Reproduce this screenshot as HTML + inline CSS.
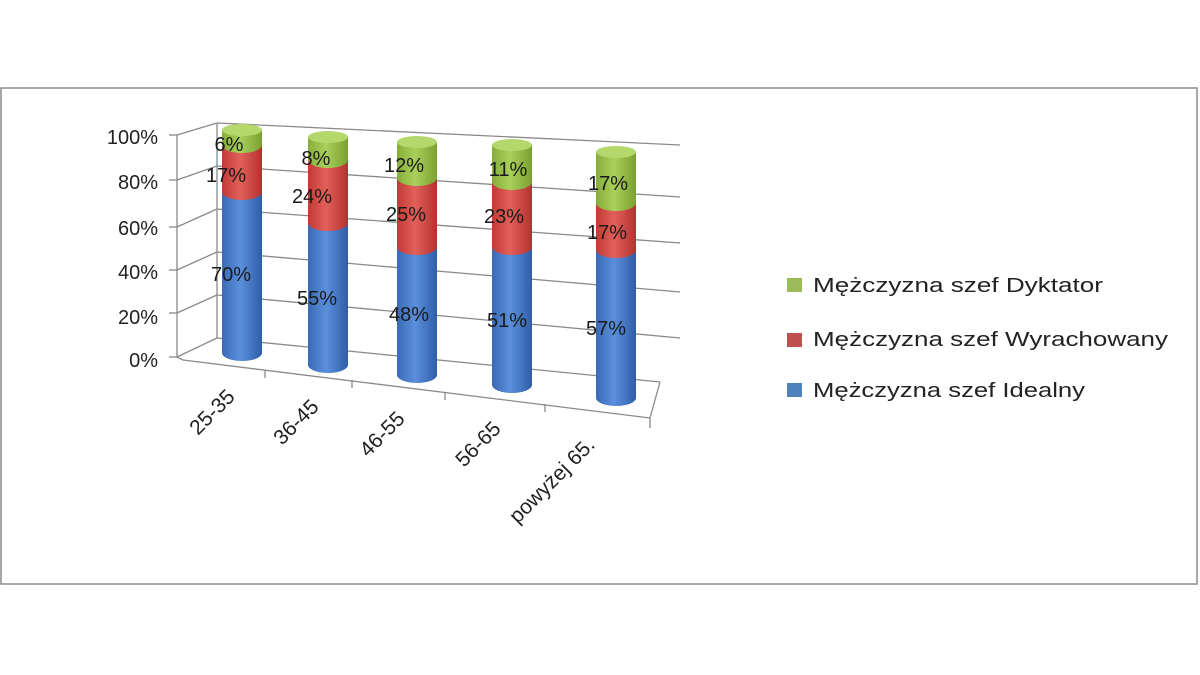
<!DOCTYPE html>
<html><head><meta charset="utf-8"><style>
body{margin:0;background:#fff}
svg{display:block;font-family:"Liberation Sans",sans-serif}
</style></head><body>
<svg width="1200" height="675" viewBox="0 0 1200 675">
<defs>
<linearGradient id="gb" x1="0" x2="1"><stop offset="0" stop-color="#3a6ab5"/><stop offset="0.45" stop-color="#5b8fdc"/><stop offset="1" stop-color="#2f5ea8"/></linearGradient>
<linearGradient id="gr" x1="0" x2="1"><stop offset="0" stop-color="#c23a36"/><stop offset="0.45" stop-color="#e2605a"/><stop offset="1" stop-color="#b3322f"/></linearGradient>
<linearGradient id="gg" x1="0" x2="1"><stop offset="0" stop-color="#86ad3a"/><stop offset="0.45" stop-color="#a9d05a"/><stop offset="1" stop-color="#7aa032"/></linearGradient>
</defs>
<rect x="1" y="88" width="1196" height="496" fill="#fff" stroke="#8c8c8c" stroke-width="1.5"/>
<g stroke="#8a8a8a" stroke-width="1.3" fill="none">
<line x1="177" y1="135" x2="177" y2="357"/>
<line x1="177" y1="135" x2="217" y2="123"/>
<line x1="177" y1="180" x2="217" y2="166"/><line x1="217" y1="166" x2="680" y2="197"/>
<line x1="177" y1="227" x2="217" y2="209"/><line x1="217" y1="209" x2="680" y2="243"/>
<line x1="177" y1="270" x2="217" y2="252"/><line x1="217" y1="252" x2="680" y2="292"/>
<line x1="177" y1="313" x2="217" y2="295"/><line x1="217" y1="295" x2="680" y2="338"/>
<line x1="217" y1="123" x2="680" y2="145"/>
<line x1="217" y1="123" x2="217" y2="338"/>
<line x1="177" y1="357" x2="217" y2="338"/><line x1="217" y1="338" x2="660" y2="382"/>
<line x1="183" y1="360" x2="650" y2="418"/><line x1="650" y1="418" x2="660" y2="382"/>
<line x1="177" y1="357" x2="183" y2="360"/>
<line x1="169" y1="135" x2="177" y2="135"/><line x1="169" y1="180" x2="177" y2="180"/><line x1="169" y1="227" x2="177" y2="227"/><line x1="169" y1="270" x2="177" y2="270"/><line x1="169" y1="313" x2="177" y2="313"/><line x1="169" y1="357" x2="177" y2="357"/>
<line x1="265" y1="370" x2="265" y2="378"/><line x1="352" y1="380" x2="352" y2="388"/><line x1="445" y1="392" x2="445" y2="400"/><line x1="545" y1="404" x2="545" y2="412"/><line x1="650" y1="418" x2="650" y2="428"/>
</g>
<g font-size="20" fill="#222" text-anchor="end">
<text x="158" y="144">100%</text><text x="158" y="189">80%</text><text x="158" y="235">60%</text><text x="158" y="279">40%</text><text x="158" y="324">20%</text><text x="158" y="367">0%</text>
</g>
<g font-size="21" fill="#222" text-anchor="end">
<text transform="translate(236,398) rotate(-45)">25-35</text>
<text transform="translate(320,408) rotate(-45)">36-45</text>
<text transform="translate(406,420) rotate(-45)">46-55</text>
<text transform="translate(502,430) rotate(-45)">56-65</text>
<text transform="translate(596,446) rotate(-45)">powyżej 65.</text>
</g>
<g>
<path d="M222 192 V353 A20 8 0 0 0 262 353 V192 Z" fill="url(#gb)"/>
<path d="M222 145 V192 A20 8 0 0 0 262 192 V145 Z" fill="url(#gr)"/>
<path d="M222 130 V145 A20 8 0 0 0 262 145 V130 Z" fill="url(#gg)"/>
<ellipse cx="242" cy="130" rx="20" ry="6" fill="#b5d86c"/>
</g>
<g>
<path d="M308 223 V365 A20 8 0 0 0 348 365 V223 Z" fill="url(#gb)"/>
<path d="M308 160 V223 A20 8 0 0 0 348 223 V160 Z" fill="url(#gr)"/>
<path d="M308 137 V160 A20 8 0 0 0 348 160 V137 Z" fill="url(#gg)"/>
<ellipse cx="328" cy="137" rx="20" ry="6" fill="#b5d86c"/>
</g>
<g>
<path d="M397 247 V375 A20 8 0 0 0 437 375 V247 Z" fill="url(#gb)"/>
<path d="M397 178 V247 A20 8 0 0 0 437 247 V178 Z" fill="url(#gr)"/>
<path d="M397 142 V178 A20 8 0 0 0 437 178 V142 Z" fill="url(#gg)"/>
<ellipse cx="417" cy="142" rx="20" ry="6" fill="#b5d86c"/>
</g>
<g>
<path d="M492 247 V385 A20 8 0 0 0 532 385 V247 Z" fill="url(#gb)"/>
<path d="M492 182 V247 A20 8 0 0 0 532 247 V182 Z" fill="url(#gr)"/>
<path d="M492 145 V182 A20 8 0 0 0 532 182 V145 Z" fill="url(#gg)"/>
<ellipse cx="512" cy="145" rx="20" ry="6" fill="#b5d86c"/>
</g>
<g>
<path d="M596 250 V398 A20 8 0 0 0 636 398 V250 Z" fill="url(#gb)"/>
<path d="M596 203 V250 A20 8 0 0 0 636 250 V203 Z" fill="url(#gr)"/>
<path d="M596 152 V203 A20 8 0 0 0 636 203 V152 Z" fill="url(#gg)"/>
<ellipse cx="616" cy="152" rx="20" ry="6" fill="#b5d86c"/>
</g>
<g font-size="20" fill="#1a1a1a" text-anchor="middle">
<text x="229" y="151">6%</text><text x="226" y="182">17%</text><text x="231" y="281">70%</text>
<text x="316" y="165">8%</text><text x="312" y="203">24%</text><text x="317" y="305">55%</text>
<text x="404" y="172">12%</text><text x="406" y="221">25%</text><text x="409" y="321">48%</text>
<text x="508" y="176">11%</text><text x="504" y="223">23%</text><text x="507" y="327">51%</text>
<text x="608" y="190">17%</text><text x="607" y="239">17%</text><text x="606" y="335">57%</text>
</g>
<rect x="787" y="278" width="15" height="14" fill="#9bbb59"/>
<rect x="787" y="333" width="15" height="14" fill="#c0504d"/>
<rect x="787" y="383" width="15" height="14" fill="#4f81bd"/>
<g font-size="20" fill="#222">
<text x="813" y="292" textLength="290" lengthAdjust="spacingAndGlyphs">Mężczyzna szef Dyktator</text>
<text x="813" y="346" textLength="355" lengthAdjust="spacingAndGlyphs">Mężczyzna szef Wyrachowany</text>
<text x="813" y="397" textLength="272" lengthAdjust="spacingAndGlyphs">Mężczyzna szef Idealny</text>
</g>
</svg>
</body></html>
